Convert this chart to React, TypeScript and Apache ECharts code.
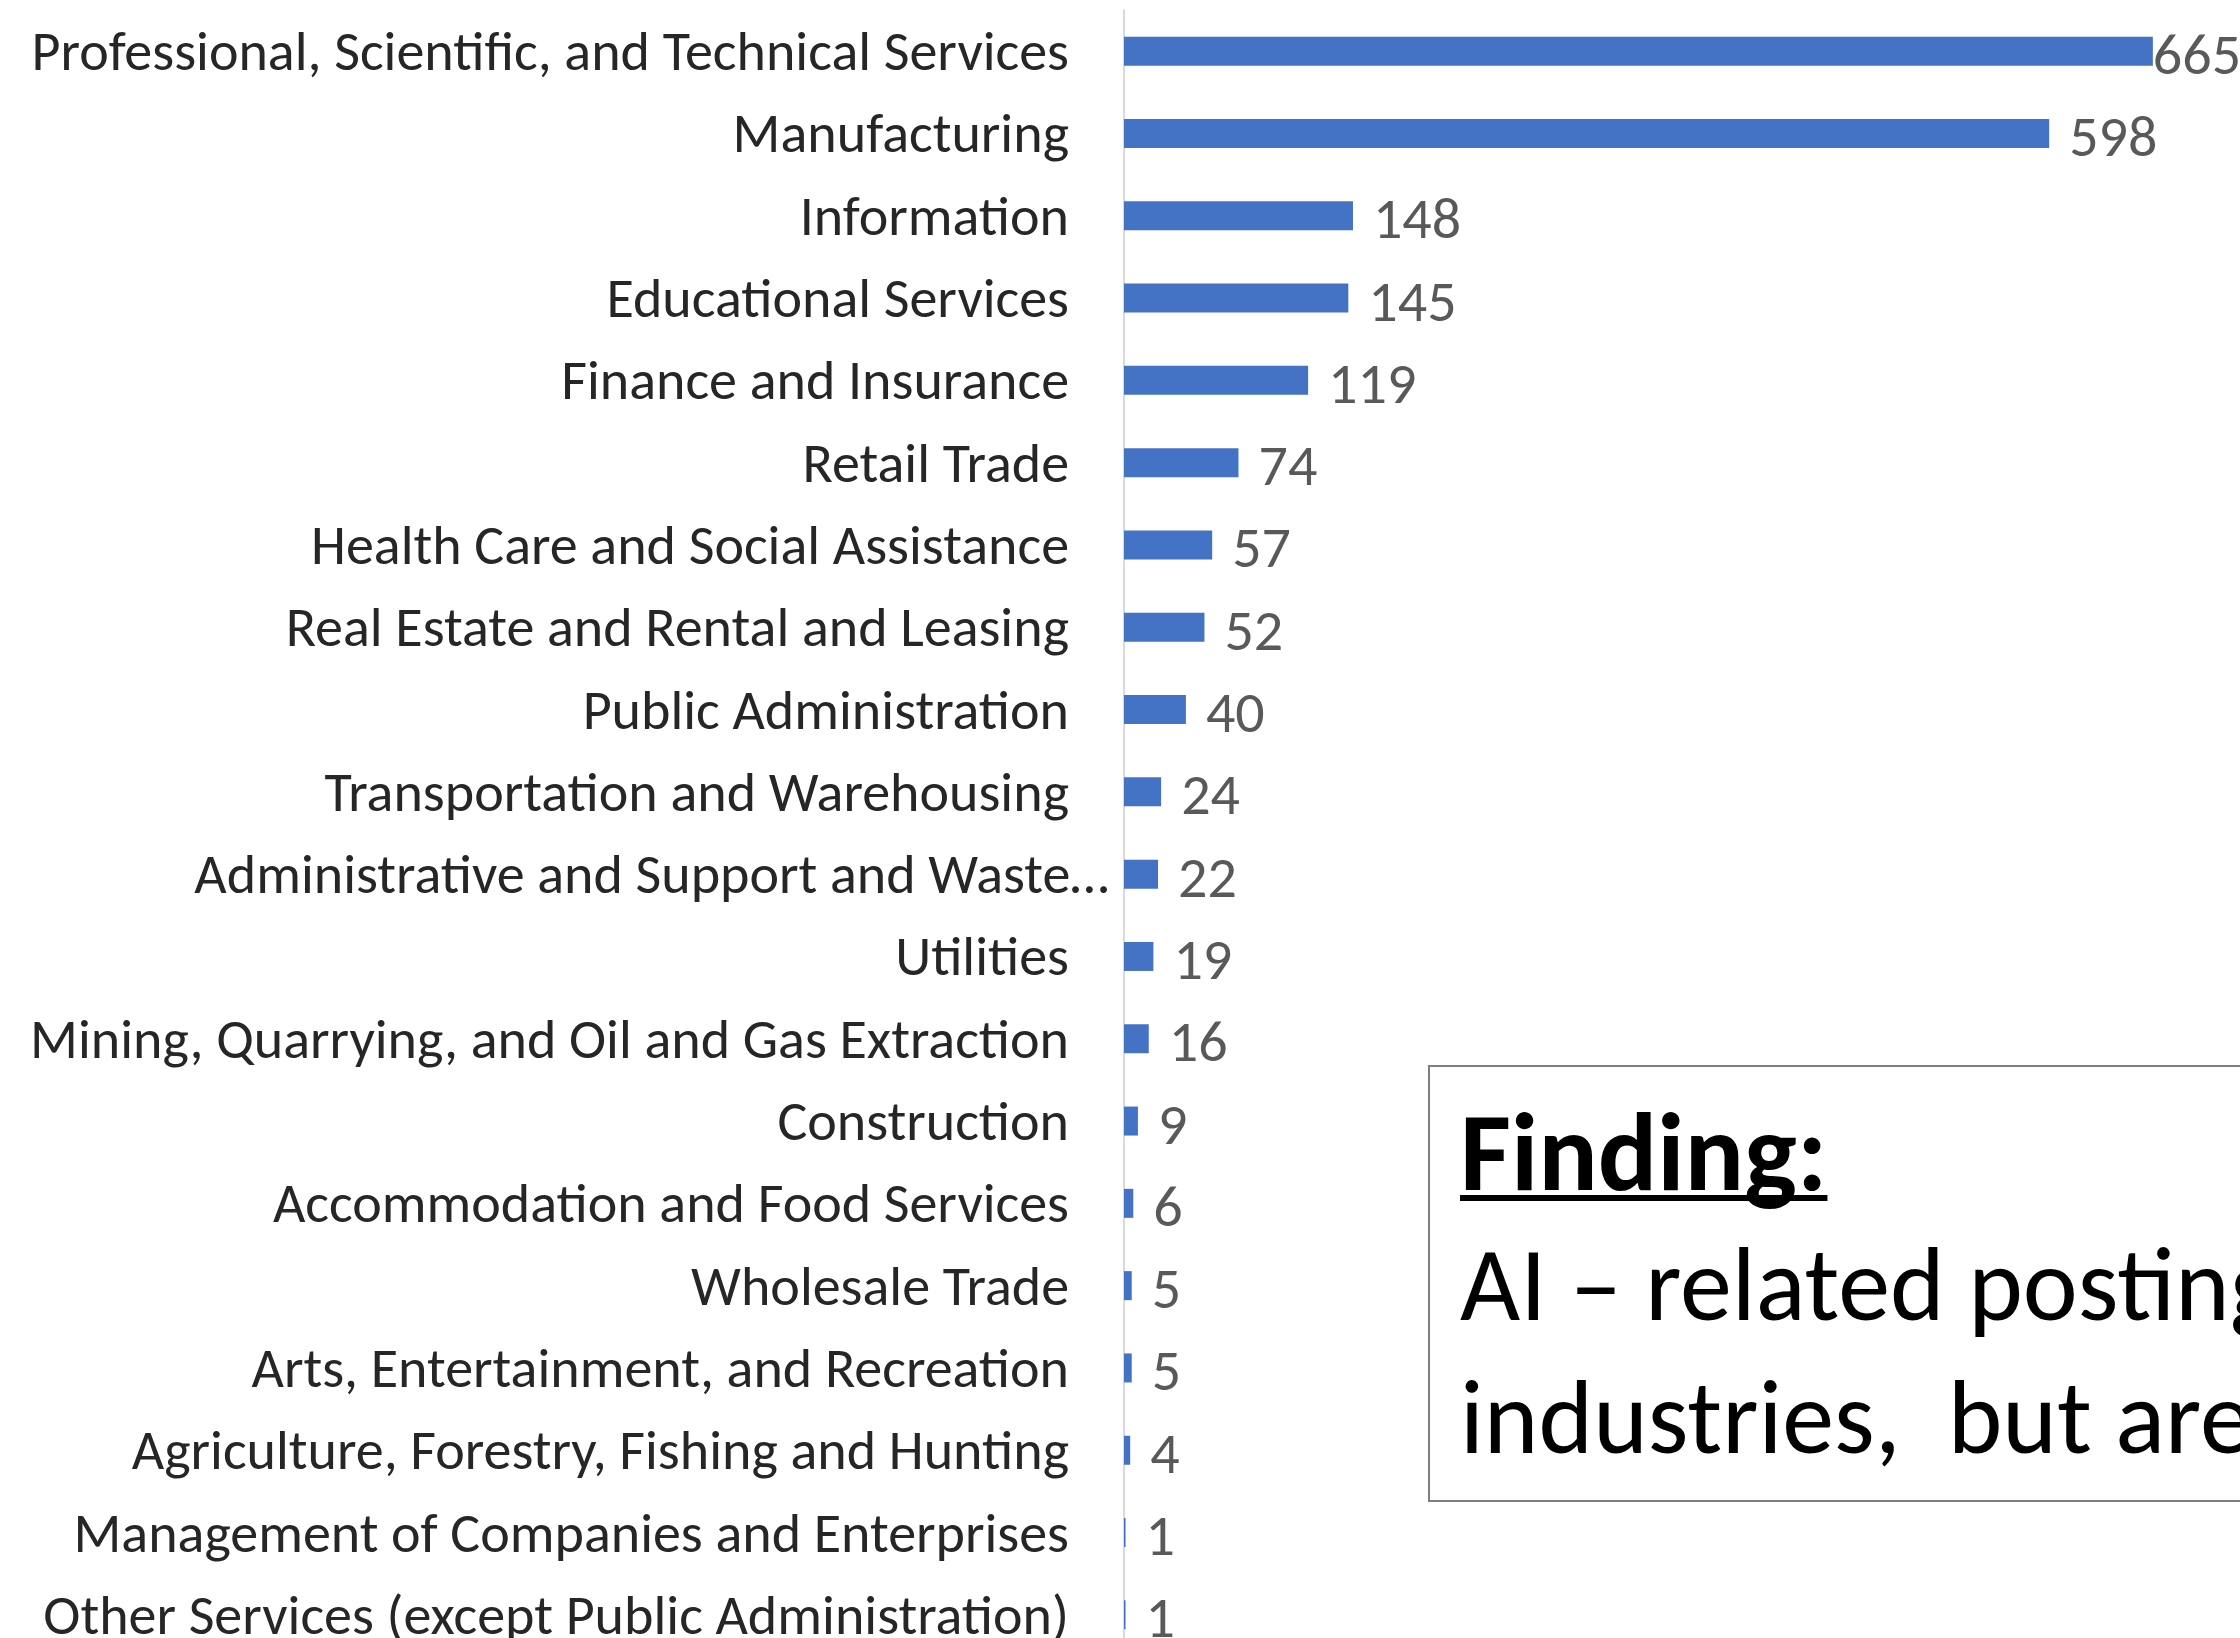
import React, { useEffect, useRef } from "react";
import * as echarts from "echarts";

const categories = [
  "Professional, Scientific, and Technical Services",
  "Manufacturing",
  "Information",
  "Educational Services",
  "Finance and Insurance",
  "Retail Trade",
  "Health Care and Social Assistance",
  "Real Estate and Rental and Leasing",
  "Public Administration",
  "Transportation and Warehousing",
  "Administrative and Support and Waste…",
  "Utilities",
  "Mining, Quarrying, and Oil and Gas Extraction",
  "Construction",
  "Accommodation and Food Services",
  "Wholesale Trade",
  "Arts, Entertainment, and Recreation",
  "Agriculture, Forestry, Fishing and Hunting",
  "Management of Companies and Enterprises",
  "Other Services (except Public Administration)",
];

const postings = [665, 598, 148, 145, 119, 74, 57, 52, 40, 24, 22, 19, 16, 9, 6, 5, 5, 4, 1, 1];

const findingTitle = "Finding:";
const findingLines = ["AI – related postings", "industries,  but are"];

const FONT = "Calibri, Carlito, Lato, sans-serif";

export default function App() {
  const ref = useRef<HTMLDivElement>(null);

  useEffect(() => {
    if (!ref.current) return;
    const chart = echarts.init(ref.current, null, { renderer: "svg" });

    let titleWidth = 364;
    try {
      const ctx = document.createElement("canvas").getContext("2d");
      if (ctx) {
        ctx.font = `bold 111px ${FONT}`;
        titleWidth = ctx.measureText(findingTitle).width;
      }
    } catch (e) {}

    const option: any = {
      animation: false,
      backgroundColor: "#ffffff",
      grid: { left: 1124, top: 10, width: 1083, height: 1646 },
      xAxis: { type: "value", min: 0, max: 700, show: false },
      yAxis: {
        type: "category",
        inverse: true,
        data: categories.map((c, i) =>
          i === 10 ? { value: c, textStyle: { padding: [0, -40, 0, 0] } } : c
        ),
        axisLine: { show: true, lineStyle: { color: "#d9d9d9", width: 2 } },
        axisTick: { show: false },
        splitLine: { show: false },
        axisLabel: {
          interval: 0,
          color: "#262626",
          fontSize: 56,
          fontFamily: FONT,
          margin: 55,
        },
      },
      series: [
        {
          type: "bar",
          data: postings.map((v, i) =>
            i === 0 ? { value: v, label: { distance: 0 } } : v
          ),
          barWidth: 29,
          itemStyle: { color: "#4472C4" },
          label: {
            show: true,
            position: "right",
            distance: 20,
            color: "#595959",
            fontSize: 58,
            fontFamily: FONT,
            offset: [0, 3],
          },
        },
      ],
      graphic: [
        {
          type: "rect",
          shape: { x: 1429, y: 1066, width: 1000, height: 435 },
          style: { fill: "#ffffff", stroke: "#7f7f7f", lineWidth: 2 },
          z: 10,
        },
        {
          type: "text",
          x: 1460,
          y: 1152,
          style: {
            text: findingTitle,
            font: `bold 111px ${FONT}`,
            fill: "#000000",
            textAlign: "left",
            textVerticalAlign: "middle",
          },
          z: 11,
        },
        {
          type: "line",
          shape: { x1: 1460, y1: 1198, x2: 1460 + titleWidth, y2: 1198 },
          style: { stroke: "#000000", lineWidth: 6 },
          z: 11,
        },
        ...findingLines.map((t, i) => ({
          type: "text",
          x: 1460,
          y: 1284 + i * 133,
          style: {
            text: t,
            font: `104px ${FONT}`,
            fill: "#000000",
            textAlign: "left",
            textVerticalAlign: "middle",
          },
          z: 11,
        })),
      ],
    };

    chart.setOption(option);
    return () => chart.dispose();
  }, []);

  return (
    <div
      style={{
        position: "fixed",
        left: 0,
        top: 0,
        width: 2240,
        height: 1638,
        overflow: "hidden",
        background: "#fff",
      }}
    >
      <div ref={ref} style={{ width: 2240, height: 1700 }} />
    </div>
  );
}
